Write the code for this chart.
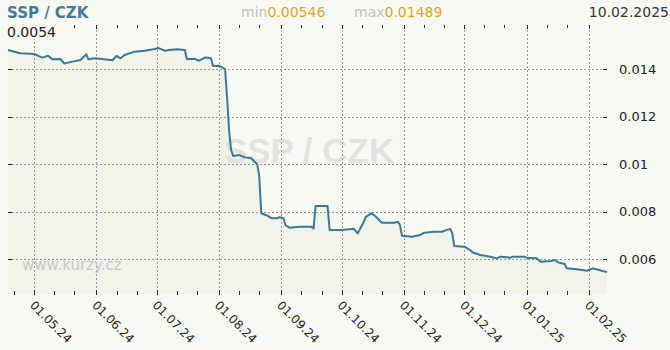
<!DOCTYPE html>
<html>
<head>
<meta charset="utf-8">
<script src="https://cdn.jsdelivr.net/npm/d3@7"></script>
<style>
  html, body { margin: 0; padding: 0; background: #f9f9f4; }
  svg { display: block; font-family: "DejaVu Sans", Verdana, sans-serif; }
</style>
</head>
<body>
<div id="chart"></div>
<script>
// daily SSP/CZK rate
const rateDates = [
  "2024-04-18", "2024-04-24", "2024-05-01", "2024-05-05", "2024-05-08", "2024-05-10",
  "2024-05-14", "2024-05-16", "2024-05-20", "2024-05-24", "2024-05-27", "2024-05-28",
  "2024-05-31", "2024-06-05", "2024-06-09", "2024-06-11", "2024-06-13", "2024-06-15",
  "2024-06-20", "2024-06-25", "2024-06-27", "2024-06-30", "2024-07-02", "2024-07-05",
  "2024-07-07", "2024-07-11", "2024-07-15", "2024-07-16", "2024-07-20", "2024-07-22",
  "2024-07-25", "2024-07-28", "2024-07-29", "2024-08-01", "2024-08-04", "2024-08-05",
  "2024-08-06", "2024-08-07", "2024-08-08", "2024-08-11", "2024-08-14", "2024-08-17",
  "2024-08-20", "2024-08-21", "2024-08-22", "2024-08-25", "2024-08-27", "2024-08-30",
  "2024-08-31", "2024-09-02", "2024-09-03", "2024-09-05", "2024-09-10", "2024-09-16",
  "2024-09-17", "2024-09-18", "2024-09-24", "2024-09-25", "2024-10-01", "2024-10-07",
  "2024-10-09", "2024-10-12", "2024-10-13", "2024-10-16", "2024-10-18", "2024-10-21",
  "2024-10-27", "2024-10-29", "2024-10-30", "2024-10-31", "2024-11-05", "2024-11-09",
  "2024-11-11", "2024-11-16", "2024-11-20", "2024-11-22", "2024-11-24", "2024-11-25",
  "2024-11-26", "2024-12-01", "2024-12-04", "2024-12-05", "2024-12-09", "2024-12-14",
  "2024-12-17", "2024-12-19", "2024-12-24", "2024-12-25", "2024-12-31", "2025-01-01",
  "2025-01-06", "2025-01-08", "2025-01-13", "2025-01-15", "2025-01-17", "2025-01-20",
  "2025-01-21", "2025-01-26", "2025-01-31", "2025-02-03", "2025-02-06", "2025-02-10"
];
const rateValues = [
  0.01481, 0.01467, 0.01464, 0.01449, 0.01457, 0.01442,
  0.01443, 0.01424, 0.01432, 0.01439, 0.01463, 0.01442,
  0.01446, 0.01442, 0.01438, 0.01456, 0.01446, 0.0146,
  0.01474, 0.01478, 0.01481, 0.01485, 0.01489, 0.01478,
  0.01481, 0.01484, 0.01481, 0.01443, 0.01443, 0.01436,
  0.01449, 0.01446, 0.01414, 0.01415, 0.01401, 0.0128,
  0.0114, 0.0106, 0.01035, 0.01039, 0.01029, 0.01025,
  0.0100, 0.0095, 0.00794, 0.00784, 0.00773, 0.00773,
  0.00777, 0.00774, 0.00744, 0.00733, 0.00737, 0.00737,
  0.00729, 0.00824, 0.00824, 0.00723, 0.00723, 0.00729,
  0.00709, 0.00758, 0.00779, 0.00794, 0.00779, 0.00754,
  0.00754, 0.00758, 0.00744, 0.00699, 0.00695, 0.00702,
  0.00712, 0.00716, 0.00716, 0.00723, 0.00728, 0.0071,
  0.00656, 0.00653, 0.00639, 0.0063, 0.00618, 0.00611,
  0.00604, 0.00611, 0.00607, 0.00611, 0.00611, 0.00607,
  0.00604, 0.0059, 0.00593, 0.00597, 0.00586, 0.0058,
  0.00562, 0.00558, 0.00552, 0.00562, 0.00555, 0.00546
];

const yTicks = [0.006, 0.008, 0.01, 0.012, 0.014];
const yTickLabels = ["0.006", "0.008", "0.01", "0.012", "0.014"];
const monthTicks = [
  "2024-05-01", "2024-06-01", "2024-07-01", "2024-08-01", "2024-09-01",
  "2024-10-01", "2024-11-01", "2024-12-01", "2025-01-01", "2025-02-01"
];
const monthLabels = [
  "01.05.24", "01.06.24", "01.07.24", "01.08.24", "01.09.24",
  "01.10.24", "01.11.24", "01.12.24", "01.01.25", "01.02.25"
];

const pairName = "SSP / CZK";
const minText = "0.00546";
const maxText = "0.01489";
const lastDate = "10.02.2025";
const cornerText = "0.0054";
const siteText = "www.kurzy.cz";

const parseDate = d3.utcParse("%Y-%m-%d");
const data = rateDates.map((d, i) => ({ date: parseDate(d), value: rateValues[i] }));

const svgWidth = 670;
const svgHeight = 350;
const plot = { left: 8, right: 607, top: 26, bottom: 294 };

const svg = d3
  .select("#chart")
  .append("svg")
  .attr("width", svgWidth)
  .attr("height", svgHeight);

svg.append("rect")
  .attr("width", svgWidth)
  .attr("height", svgHeight)
  .attr("fill", "#f9f9f4");

const xScale = d3
  .scaleUtc()
  .domain([parseDate("2024-04-18"), parseDate("2025-02-10")])
  .range([plot.left, plot.right]);

const yScale = d3
  .scaleLinear()
  .domain([0.00454, 0.01582])
  .range([plot.bottom, plot.top]);

// fill under the line
const area = d3
  .area()
  .x((d) => xScale(d.date))
  .y0(plot.bottom)
  .y1((d) => yScale(d.value));

svg.append("path")
  .datum(data)
  .attr("d", area)
  .attr("fill", "#f1f2e9");

// big watermark
svg.append("text")
  .attr("x", 309)
  .attr("y", 163)
  .attr("text-anchor", "middle")
  .attr("font-family", "'Liberation Sans', Arial, sans-serif")
  .attr("font-weight", "bold")
  .attr("font-size", 35)
  .attr("fill", "#e2e2e0")
  .text(pairName);

// grid
const grid = svg.append("g")
  .attr("stroke", "#9a9a9a")
  .attr("stroke-width", 1)
  .attr("stroke-dasharray", "2,2");

grid.selectAll("line.h")
  .data(yTicks)
  .enter()
  .append("line")
  .attr("x1", plot.left)
  .attr("x2", plot.right)
  .attr("y1", (d) => Math.round(yScale(d)) + 0.5)
  .attr("y2", (d) => Math.round(yScale(d)) + 0.5);

grid.selectAll("line.v")
  .data(monthTicks)
  .enter()
  .append("line")
  .attr("x1", (d) => Math.round(xScale(parseDate(d))) + 0.5)
  .attr("x2", (d) => Math.round(xScale(parseDate(d))) + 0.5)
  .attr("y1", plot.top)
  .attr("y2", plot.bottom);

// the rate line
const line = d3
  .line()
  .x((d) => xScale(d.date))
  .y((d) => yScale(d.value));

svg.append("path")
  .datum(data)
  .attr("d", line)
  .attr("fill", "none")
  .attr("stroke", "#3a7898")
  .attr("stroke-width", 2)
  .attr("stroke-linejoin", "round");

// small ticks on days 1, 11 and 21
const dayTicks = d3.utcDays(parseDate("2024-04-19"), parseDate("2025-02-10"))
  .filter((d) => [1, 11, 21].includes(d.getUTCDate()));

const ticks = svg.append("g").attr("stroke", "#222").attr("stroke-width", 1);

ticks.selectAll("line.b")
  .data(dayTicks)
  .enter()
  .append("line")
  .attr("x1", (d) => Math.round(xScale(d)) + 0.5)
  .attr("x2", (d) => Math.round(xScale(d)) + 0.5)
  .attr("y1", (d) => (d.getUTCDate() === 1 ? plot.bottom - 4 : plot.bottom - 3))
  .attr("y2", plot.bottom + 1);

ticks.selectAll("line.t")
  .data(dayTicks)
  .enter()
  .append("line")
  .attr("x1", (d) => Math.round(xScale(d)) + 0.5)
  .attr("x2", (d) => Math.round(xScale(d)) + 0.5)
  .attr("y1", plot.top - 1)
  .attr("y2", (d) => (d.getUTCDate() === 1 ? plot.top + 3 : plot.top + 2));

ticks.selectAll("line.l")
  .data(yTicks)
  .enter()
  .append("line")
  .attr("x1", plot.left)
  .attr("x2", plot.left + 4)
  .attr("y1", (d) => Math.round(yScale(d)) + 0.5)
  .attr("y2", (d) => Math.round(yScale(d)) + 0.5);

ticks.selectAll("line.r")
  .data(yTicks)
  .enter()
  .append("line")
  .attr("x1", plot.right - 4)
  .attr("x2", plot.right)
  .attr("y1", (d) => Math.round(yScale(d)) + 0.5)
  .attr("y2", (d) => Math.round(yScale(d)) + 0.5);

// right axis labels
svg.selectAll("text.ylab")
  .data(yTicks)
  .enter()
  .append("text")
  .attr("class", "ylab")
  .attr("x", 619)
  .attr("y", (d) => yScale(d))
  .attr("dy", "0.35em")
  .attr("font-size", 13)
  .attr("fill", "#222")
  .text((d, i) => yTickLabels[i]);

// rotated date labels
svg.selectAll("text.xlab")
  .data(monthTicks)
  .enter()
  .append("text")
  .attr("class", "xlab")
  .attr("transform", (d) => `translate(${xScale(parseDate(d)) - 5},${306}) rotate(45)`)
  .attr("font-size", 12)
  .attr("fill", "#222")
  .text((d, i) => monthLabels[i]);

// corner label with its own background
svg.append("rect")
  .attr("x", 5)
  .attr("y", 24)
  .attr("width", 56)
  .attr("height", 15)
  .attr("fill", "#f9f9f4");

svg.append("text")
  .attr("x", 7)
  .attr("y", 37)
  .attr("font-size", 14)
  .attr("fill", "#222")
  .text(cornerText);

// site watermark
svg.append("text")
  .attr("x", 22)
  .attr("y", 270)
  .attr("font-size", 15)
  .attr("fill", "#c9c9c9")
  .text(siteText);

// header
svg.append("text")
  .attr("x", 7)
  .attr("y", 18)
  .attr("font-size", 15)
  .attr("font-weight", "bold")
  .attr("fill", "#3f7b99")
  .text(pairName);

const minMax = svg.append("text")
  .attr("x", 241)
  .attr("y", 17)
  .attr("font-size", 14);
minMax.append("tspan").attr("fill", "#c0c0c0").text("min");
minMax.append("tspan").attr("fill", "#e0a521").text(minText);

const maxLabel = svg.append("text")
  .attr("x", 354)
  .attr("y", 17)
  .attr("font-size", 14);
maxLabel.append("tspan").attr("fill", "#c0c0c0").text("max");
maxLabel.append("tspan").attr("fill", "#e0a521").text(maxText);

svg.append("text")
  .attr("x", 669)
  .attr("y", 17)
  .attr("text-anchor", "end")
  .attr("font-size", 14)
  .attr("fill", "#333")
  .text(lastDate);
</script>
</body>
</html>
